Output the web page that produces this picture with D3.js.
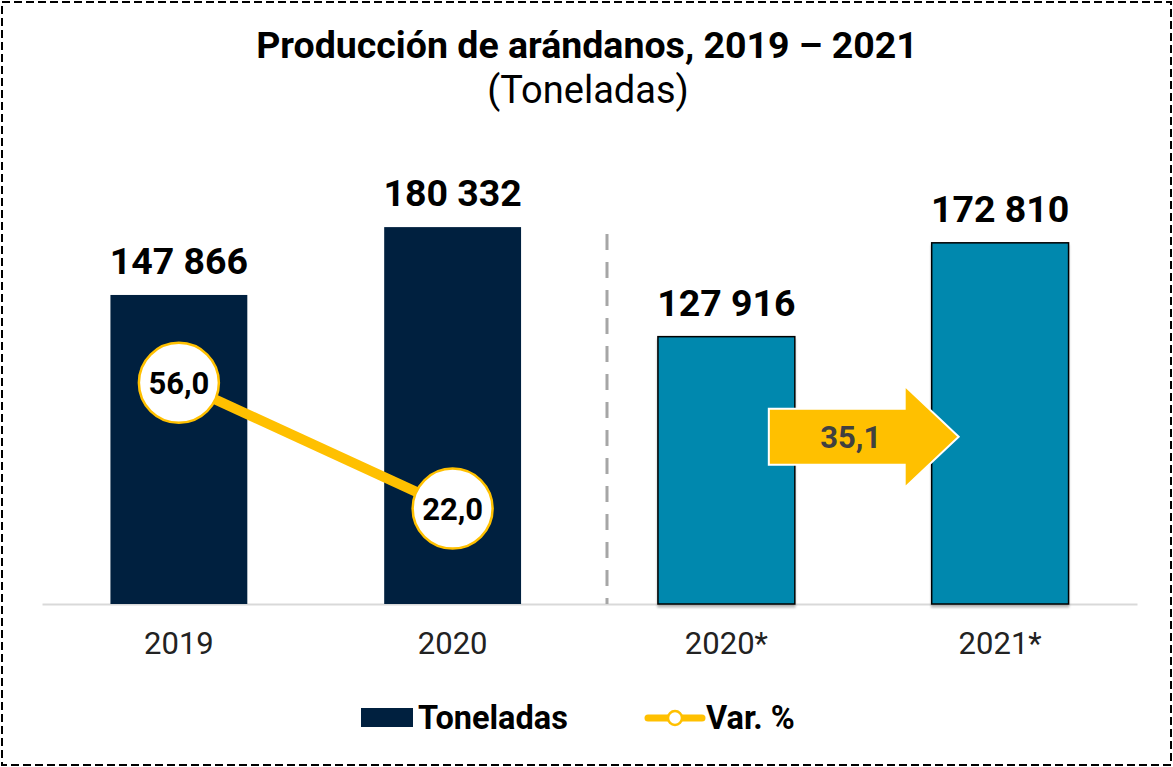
<!DOCTYPE html>
<html>
<head>
<meta charset="utf-8">
<script src="https://cdn.jsdelivr.net/npm/d3@7"></script>
<style>
  body { margin: 0; background: #fff; font-family: Roboto, sans-serif; }
</style>
</head>
<body>
<div id="chartDiv"></div>
<script>
// data
const categories = ["2019", "2020", "2020*", "2021*"];
const tonnes = [147866, 180332, 127916, 172810];
const varCategories = ["2019", "2020"];
const varValues = [56.0, 22.0];
const arrowValue = 35.1;

const W = 1173, H = 767;
const navy = "#00203F", teal = "#0088AE", gold = "#FFC000";

const locale = d3.formatLocale({ decimal: ",", thousands: " ", grouping: [3], currency: ["", ""] });
const fmtInt = locale.format(",d");
const fmtPct = locale.format(".1f");

const svg = d3.select("#chartDiv").append("svg")
    .attr("width", W)
    .attr("height", H);

const defs = svg.append("defs");
defs.append("filter").attr("id", "shadow")
    .attr("x", "-10%").attr("y", "-10%").attr("width", "120%").attr("height", "120%")
  .append("feDropShadow")
    .attr("dx", 0).attr("dy", 3).attr("stdDeviation", 1)
    .attr("flood-color", "#000").attr("flood-opacity", 0.25);

// dashed frame
svg.append("rect")
    .attr("x", 2).attr("y", 2)
    .attr("width", W - 4).attr("height", H - 4)
    .attr("fill", "none")
    .attr("stroke", "#000")
    .attr("stroke-width", 2)
    .attr("stroke-dasharray", "8,4");

// title
svg.append("text")
    .attr("x", 587).attr("y", 58)
    .attr("text-anchor", "middle")
    .style("font-size", "37.5px").style("font-weight", "bold")
    .text("Producción de arándanos, 2019 – 2021");
svg.append("text")
    .attr("x", 588).attr("y", 103)
    .attr("text-anchor", "middle")
    .style("font-size", "38px")
    .text("(Toneladas)");

// scales
const x = d3.scaleBand()
    .domain(categories)
    .range([42, 1137])
    .paddingInner(0.5)
    .paddingOuter(0.25);

const y = d3.scaleLinear()
    .domain([0, 200000])
    .range([604, 186]);

const yVar = d3.scaleLinear()
    .domain([0, 60])
    .range([590, 368]);

// baseline axis
const xAxis = svg.append("g")
    .attr("transform", `translate(0,${y(0)})`)
    .call(d3.axisBottom(x).tickSize(0).tickPadding(28));
xAxis.select(".domain")
    .attr("stroke", "#D9D9D9")
    .attr("stroke-width", 2);
xAxis.selectAll(".tick text")
    .style("font-size", "31px")
    .style("font-family", "Roboto, sans-serif")
    .attr("fill", "#222");

// separator
const sepX = 607;
svg.append("line")
    .attr("x1", sepX).attr("x2", sepX)
    .attr("y1", 234).attr("y2", y(0))
    .attr("stroke", "#A6A6A6")
    .attr("stroke-width", 3)
    .attr("stroke-dasharray", "16,12");

// bars
const bars = categories.map((c, i) => ({ cat: c, val: tonnes[i], estimate: i >= 2 }));

svg.append("g").selectAll("rect")
    .data(bars)
    .join("rect")
    .attr("x", d => x(d.cat))
    .attr("y", d => y(d.val))
    .attr("width", x.bandwidth())
    .attr("height", d => y(0) - y(d.val))
    .attr("fill", d => d.estimate ? teal : navy)
    .attr("stroke", d => d.estimate ? "#000" : "none")
    .attr("stroke-width", 1.5)
    .attr("filter", d => d.estimate ? "url(#shadow)" : null);

svg.append("g").selectAll("text")
    .data(bars)
    .join("text")
    .attr("x", d => x(d.cat) + x.bandwidth() / 2)
    .attr("y", d => y(d.val) - 21)
    .attr("text-anchor", "middle")
    .style("font-size", "37.5px").style("font-weight", "bold")
    .text(d => fmtInt(d.val));

// variation line
const pts = varCategories.map((c, i) => ({ cx: x(c) + x.bandwidth() / 2, cy: yVar(varValues[i]), v: varValues[i] }));

svg.append("path")
    .datum(pts)
    .attr("d", d3.line().x(d => d.cx).y(d => d.cy))
    .attr("fill", "none")
    .attr("stroke", gold)
    .attr("stroke-width", 10);

const bubbles = svg.append("g").selectAll("g")
    .data(pts)
    .join("g")
    .attr("transform", d => `translate(${d.cx},${d.cy})`);
bubbles.append("circle")
    .attr("r", 40)
    .attr("fill", "#fff")
    .attr("stroke", gold)
    .attr("stroke-width", 2.5);
bubbles.append("text")
    .attr("text-anchor", "middle")
    .attr("dy", "0.36em")
    .style("font-size", "31px").style("font-weight", "bold")
    .text(d => fmtPct(d.v));

// arrow between estimates
const ax0 = x(categories[2]) + x.bandwidth() - 26;
const ax1 = x(categories[3]) + 27;
const ay = y(80000);
const headLen = 54, bodyHalf = 28, headHalf = 51;
const arrowPts = [
    [ax0, ay - bodyHalf], [ax1 - headLen, ay - bodyHalf], [ax1 - headLen, ay - headHalf],
    [ax1, ay], [ax1 - headLen, ay + headHalf], [ax1 - headLen, ay + bodyHalf], [ax0, ay + bodyHalf]
];
svg.append("path")
    .attr("d", d3.line()(arrowPts) + "Z")
    .attr("fill", gold)
    .attr("stroke", "#fff")
    .attr("stroke-width", 2)
    .attr("stroke-linejoin", "miter");
svg.append("text")
    .attr("x", (ax0 + ax1 - headLen) / 2 + 14)
    .attr("y", ay)
    .attr("dy", "0.36em")
    .attr("text-anchor", "middle")
    .attr("fill", "#404040")
    .style("font-size", "31px").style("font-weight", "bold")
    .text(fmtPct(arrowValue));

// legend
const lg = svg.append("g");
lg.append("rect")
    .attr("x", 361).attr("y", 708)
    .attr("width", 52).attr("height", 19)
    .attr("fill", navy);
lg.append("text")
    .attr("x", 418).attr("y", 729)
    .style("font-size", "32.5px").style("font-weight", "bold")
    .text("Toneladas");
lg.append("line")
    .attr("x1", 648).attr("x2", 702)
    .attr("y1", 718).attr("y2", 718)
    .attr("stroke", gold)
    .attr("stroke-width", 7)
    .attr("stroke-linecap", "round");
lg.append("circle")
    .attr("cx", 675).attr("cy", 718).attr("r", 7)
    .attr("fill", "#fff")
    .attr("stroke", gold)
    .attr("stroke-width", 2.5);
lg.append("text")
    .attr("x", 706).attr("y", 729)
    .style("font-size", "32.5px").style("font-weight", "bold")
    .text("Var. %");
</script>
</body>
</html>
